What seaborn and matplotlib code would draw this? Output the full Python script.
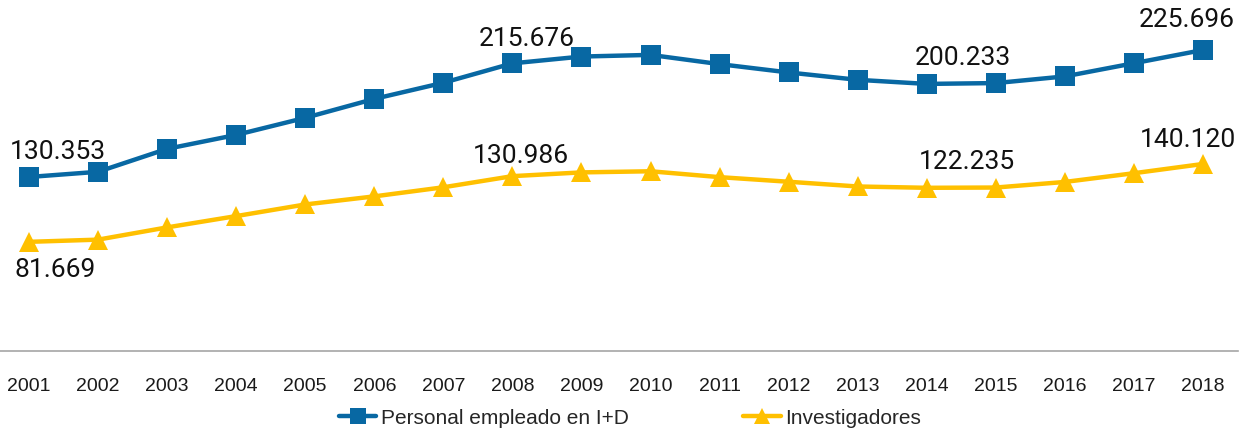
import numpy as np
import pandas as pd
import matplotlib
matplotlib.use("Agg")
import matplotlib.pyplot as plt
import seaborn as sns

# Personal e investigadores en I+D (EJC), miles
years = [str(y) for y in range(2001, 2019)]
personal = [130.353, 134.258, 151.487, 161.933, 174.773, 188.978, 201.108, 215.676, 220.777,
            222.022, 215.079, 208.831, 203.302, 200.233, 200.866, 205.873, 215.754, 225.696]
investigadores = [81.669, 83.318, 92.523, 100.994, 109.720, 115.798, 122.624, 130.986, 133.803,
                  134.653, 130.235, 126.778, 123.225, 122.235, 122.437, 126.633, 133.195, 140.120]

# which points get a value label, and where (offset in pixels)
label_years = ["2001", "2008", "2014", "2018"]
offs_personal = [(29, 25), (14, 24), (36, 26), (-16, 30)]
offs_invest = [(26, -28), (8, 20), (40, 26), (-15, 24)]

BLUE = "#0868A3"
YELLOW = "#FFC000"

sns.set_style("white")
plt.rcParams["font.family"] = ["Roboto", "DejaVu Sans"]

df = pd.DataFrame({"year": years, "Personal empleado en I+D": personal,
                   "Investigadores": investigadores})
long = df.melt(id_vars="year", var_name="serie", value_name="valor")

fig = plt.figure(figsize=(12.47, 4.32), dpi=100)
ax = fig.add_axes([-5.5 / 1247, 0.1884, 1243 / 1247, 0.7708])

sns.lineplot(data=long, x="year", y="valor", hue="serie", style="serie",
             markers={"Personal empleado en I+D": "s", "Investigadores": "^"},
             dashes=False, palette={"Personal empleado en I+D": BLUE, "Investigadores": YELLOW},
             linewidth=3.2, markersize=14, markeredgewidth=0, ax=ax, legend=False)

ax.set_xlim(-0.5, len(years) - 0.5)
ax.set_ylim(0, 250)
ax.set_yticks([])
ax.set_xlabel("")
ax.set_ylabel("")
for s in ["left", "right", "top"]:
    ax.spines[s].set_visible(False)
ax.spines["bottom"].set_color("#A6A6A6")
ax.spines["bottom"].set_linewidth(1.2)
ax.tick_params(axis="x", length=0, pad=20)
for t in ax.get_xticklabels():
    t.set_fontfamily(["Liberation Sans Narrow", "Liberation Sans"])
    t.set_fontsize(14)
    t.set_color("#1a1a1a")

for yr, (dx, dy) in zip(label_years, offs_personal):
    i = years.index(yr)
    ax.annotate(f"{personal[i]:.3f}", (i, personal[i]), xytext=(dx * 0.72, dy * 0.72),
                textcoords="offset points", ha="center", va="center", fontsize=19,
                color="#111111", annotation_clip=False)
for yr, (dx, dy) in zip(label_years, offs_invest):
    i = years.index(yr)
    ax.annotate(f"{investigadores[i]:.3f}", (i, investigadores[i]), xytext=(dx * 0.72, dy * 0.72),
                textcoords="offset points", ha="center", va="center", fontsize=19,
                color="#111111", annotation_clip=False)

handles = [
    plt.Line2D([], [], color=BLUE, lw=3.2, marker="s", markersize=12, markeredgewidth=0),
    plt.Line2D([], [], color=YELLOW, lw=3.2, marker="^", markersize=12, markeredgewidth=0),
]
fig.legend(handles, ["Personal empleado en I+D", "Investigadores"], loc="center",
           bbox_to_anchor=(0.505, 0.032), ncol=2, frameon=False, handlelength=1.8,
           handletextpad=0.2, columnspacing=5.5,
           prop={"family": ["Liberation Sans Narrow", "Liberation Sans"], "size": 15})

fig.savefig("out.png", dpi=100)
